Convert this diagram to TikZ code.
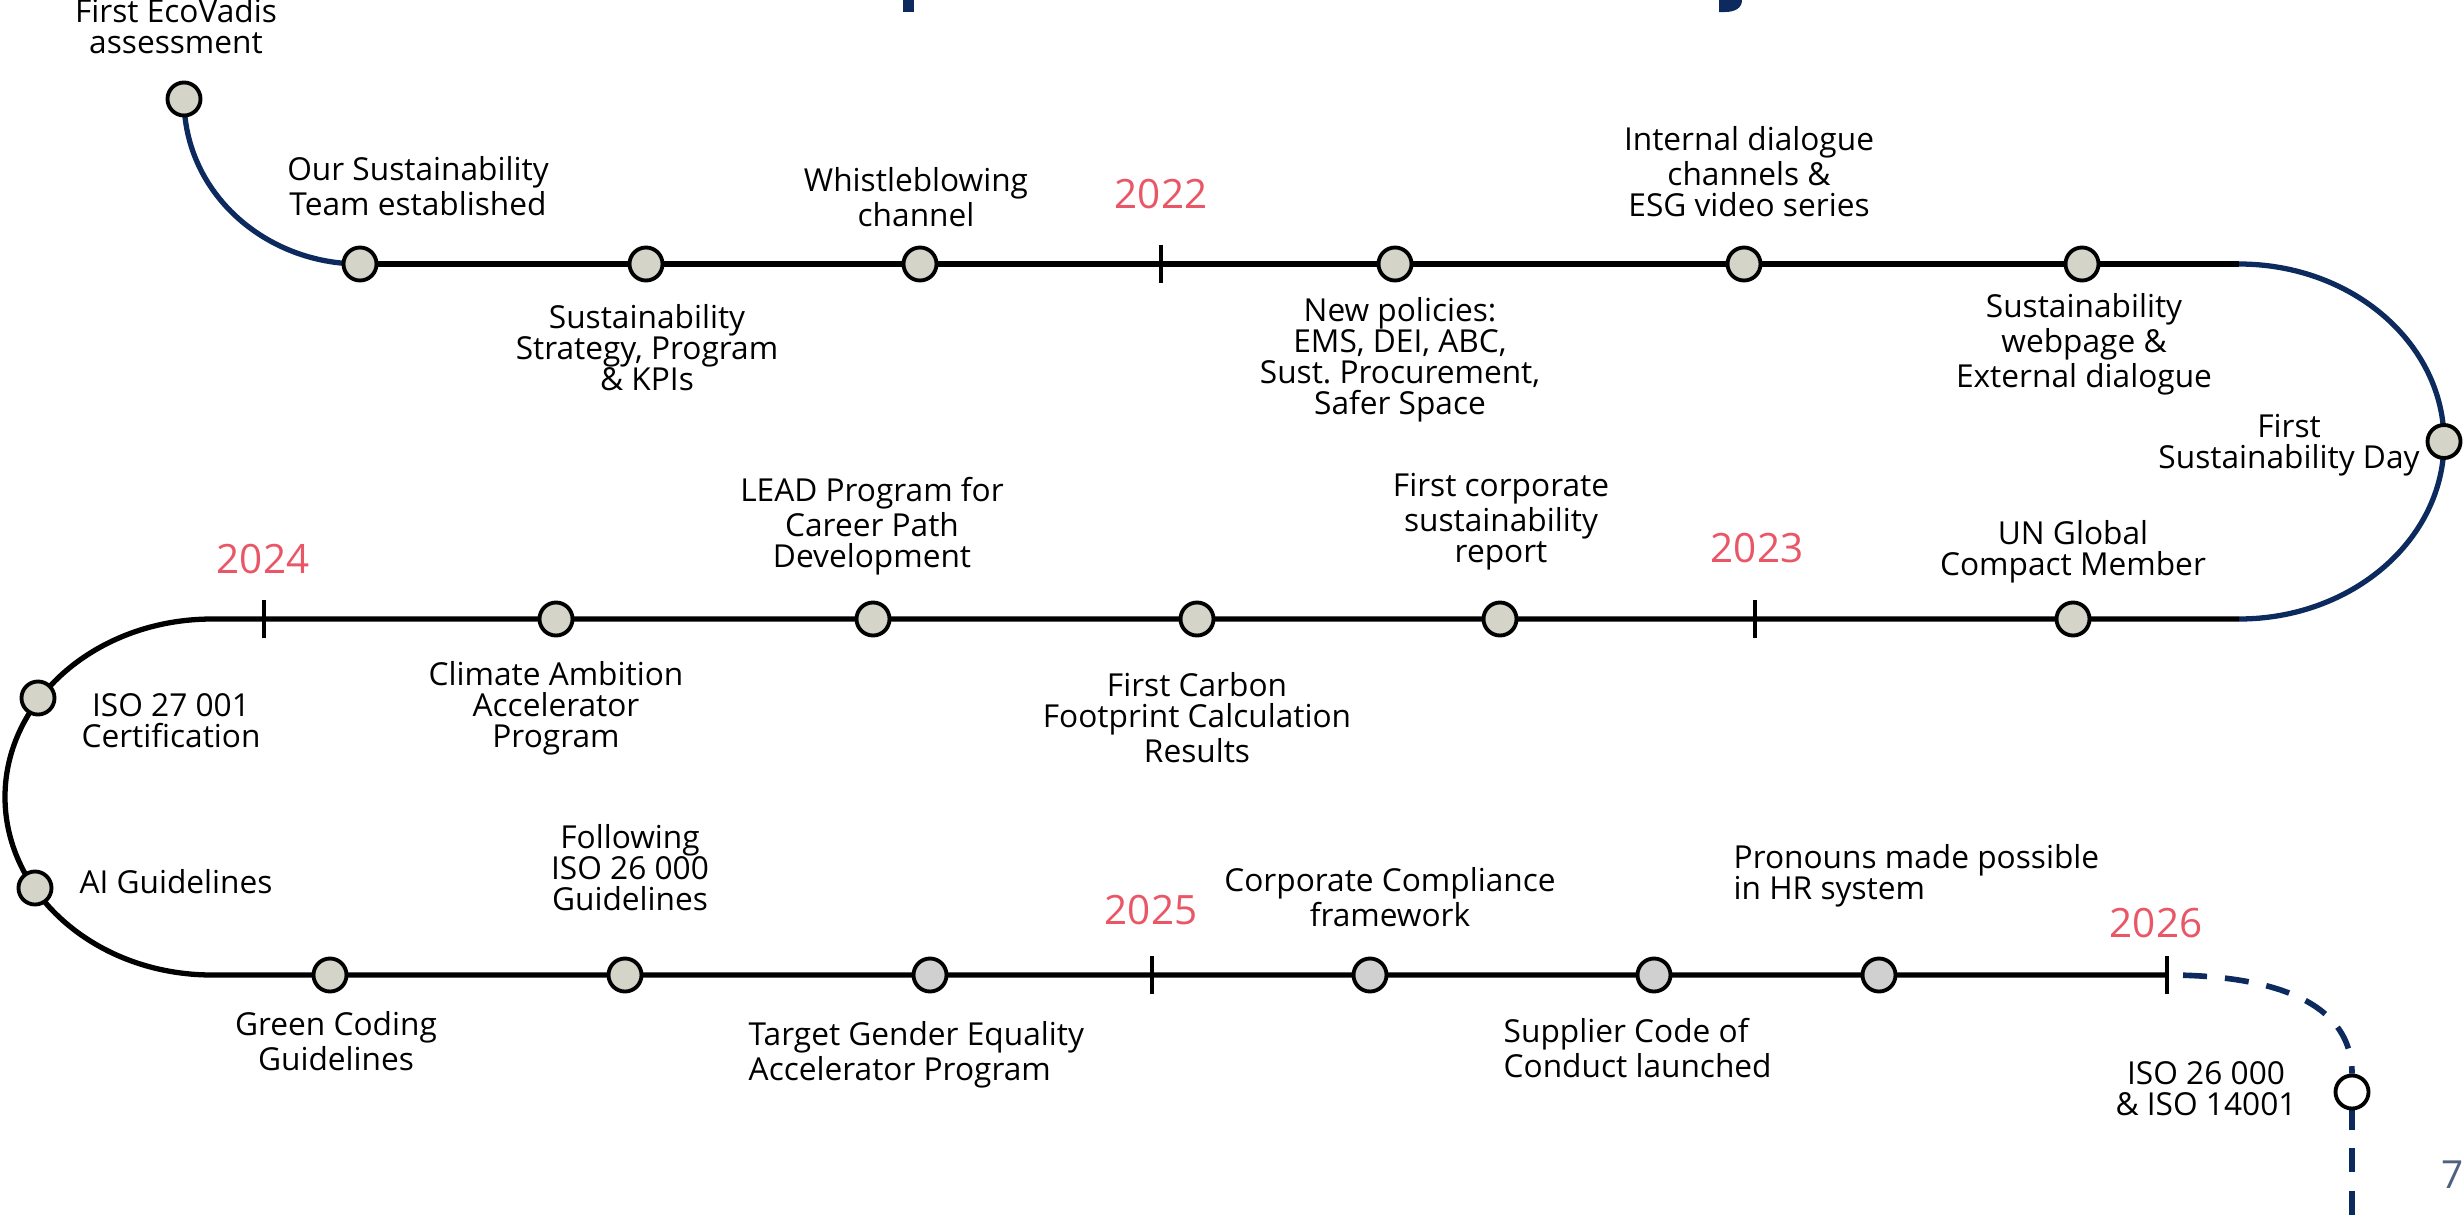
\documentclass[tikz,border=0pt]{standalone}
\usepackage{fontspec}
\setmainfont{Open Sans}
\usetikzlibrary{backgrounds}

\definecolor{navy}{RGB}{12,42,94}
\definecolor{yearred}{RGB}{233,87,103}
\definecolor{dotfill}{RGB}{212,212,200}
\definecolor{dotgrey}{RGB}{208,208,208}
\definecolor{pagegrey}{RGB}{78,98,128}

\begin{document}
\begin{tikzpicture}[x=0.01cm, y=0.01cm,
	milestone/.style={circle, draw=black, line width=1.1pt, fill=dotfill, minimum size=0.33cm, inner sep=0pt},
	track/.style={line width=1.5pt},
	future/.style={line width=1.6pt, navy, dash pattern=on 0.24cm off 0.18cm},
	yearmark/.style={line width=1.3pt},
	lbl/.style={font=\fontsize{9}{8.8}\selectfont, align=center, inner sep=0pt},
	yearlbl/.style={font=\fontsize{11.5}{13}\selectfont, text=yearred, anchor=base, inner sep=0pt}]

	\useasboundingbox (0,0) rectangle (2464,-1230);

	% Title (cut off at the top)
	\fill[navy] (903,0) rectangle (914,-12);
	\fill[navy] (1719,0) -- (1742,0) .. controls (1742,-8) and (1735,-12) .. (1725,-12) -- (1719,-12) -- cycle;

	% Row 1
	\node[milestone] (eco) at (184,-99) {};
	\node[milestone] (m1) at (360,-264) {};
	\node[milestone] (m2) at (646,-264) {};
	\node[milestone] (m3) at (920,-264) {};
	\coordinate (y22) at (1161,-264);
	\node[milestone] (m4) at (1395,-264) {};
	\node[milestone] (m5) at (1744,-264) {};
	\node[milestone] (m6) at (2082,-264) {};
	\coordinate (r1e) at (2239,-264);

	% Right turn
	\node[milestone] (sday) at (2444,-441.5) {};

	% Row 2
	\coordinate (r2e) at (2239,-619);
	\node[milestone] (un) at (2073,-619) {};
	\coordinate (y23) at (1755,-619);
	\node[milestone] (rep) at (1500,-619) {};
	\node[milestone] (carb) at (1197,-619) {};
	\node[milestone] (lead) at (873,-619) {};
	\node[milestone] (clim) at (556,-619) {};
	\coordinate (y24) at (264,-619);
	\coordinate (r2w) at (212,-619);

	% Left turn
	\node[milestone] (iso27) at (38,-698) {};
	\node[milestone] (ai) at (35,-888) {};

	% Row 3
	\coordinate (r3w) at (212,-975);
	\node[milestone] (green) at (330,-975) {};
	\node[milestone] (iso26) at (625,-975) {};
	\node[milestone, fill=dotgrey] (gend) at (930,-975) {};
	\coordinate (y25) at (1152,-975);
	\node[milestone, fill=dotgrey] (comp) at (1370,-975) {};
	\node[milestone, fill=dotgrey] (supp) at (1654,-975) {};
	\node[milestone, fill=dotgrey] (pron) at (1879,-975) {};
	\coordinate (y26) at (2167,-975);

	% Next step
	\node[milestone, fill=white] (fut) at (2352,-1092) {};
	\coordinate (bot) at (2352,-1240);

	% Track
	\begin{scope}[on background layer]
		\draw[track, navy] (eco.center) to[out=-90, in=180] (m1.center);
		\draw[track] (m1.center) -- (r1e);
		\draw[track, navy] (r1e) arc[start angle=90, end angle=-90, x radius=205, y radius=177.5];
		\draw[track] (r2e) -- (r2w) arc[start angle=90, end angle=270, x radius=207, y radius=178] -- (y26);
		\draw[future, dash phase=0.26cm] (y26) to[out=0, in=90] (fut.north);
		\draw[future, dash phase=0.04cm] (fut.south) -- (bot);
	\end{scope}

	% Year marks
	\foreach \t in {y22,y23,y24,y25,y26}
		\draw[yearmark] ([yshift=0.19cm]\t) -- ([yshift=-0.19cm]\t);

	% Labels row 1
	\node[lbl] (l-eco) at (176,-26) {First EcoVadis\\assessment};
	\node[lbl] (l-m1) at (418,-186) {Our Sustainability\\Team established};
	\node[lbl] (l-m2) at (647,-348) {Sustainability\\Strategy, Program\\\& KPIs};
	\node[lbl] (l-m3) at (916,-197) {Whistleblowing\\channel};
	\node[yearlbl] (l-y22) at (1161,-208) {2022};
	\node[lbl] (l-m4) at (1400,-360) {New policies:\\EMS, DEI, ABC,\\Sust.\ Procurement,\\Safer Space};
	\node[lbl] (l-m5) at (1749,-172) {Internal dialogue\\channels \&\\ESG video series};
	\node[lbl] (l-m6) at (2084,-344) {Sustainability\\webpage \&\\External dialogue};
	\node[lbl] (l-sday) at (2289,-445) {First\\Sustainability Day};

	% Labels row 2
	\node[lbl] (l-un) at (2073,-552) {UN Global\\Compact Member};
	\node[yearlbl] (l-y23) at (1757,-562) {2023};
	\node[lbl] (l-rep) at (1501,-522) {First corporate\\sustainability\\report};
	\node[lbl] (l-carb) at (1197,-718) {First Carbon\\Footprint Calculation\\Results};
	\node[lbl] (l-lead) at (872,-526) {LEAD Program for\\Career Path\\Development};
	\node[lbl] (l-clim) at (556,-708) {Climate Ambition\\Accelerator\\Program};
	\node[yearlbl] (l-y24) at (263,-573) {2024};
	\node[lbl] (l-iso27) at (171,-721) {ISO 27 001\\Certification};
	\node[lbl, anchor=base] (l-ai) at (176,-893) {AI Guidelines};

	% Labels row 3
	\node[lbl] (l-green) at (336,-1041) {Green Coding\\Guidelines};
	\node[lbl] (l-iso26) at (630,-868) {Following\\ISO 26 000\\Guidelines};
	\node[lbl, align=left, anchor=west] (l-gend) at (748,-1055) {Target Gender Equality\\Accelerator Program};
	\node[yearlbl] (l-y25) at (1151,-924) {2025};
	\node[lbl] (l-comp) at (1390,-897) {Corporate Compliance\\framework};
	\node[lbl, align=left, anchor=west] (l-supp) at (1503,-1048) {Supplier Code of\\Conduct launched};
	\node[lbl, align=left, anchor=west] (l-pron) at (1733,-876) {Pronouns made possible\\in HR system};
	\node[yearlbl] (l-y26) at (2156,-937) {2026};
	\node[lbl] (l-fut) at (2206,-1089) {ISO 26 000\\\& ISO 14001};

	% Page number
	\node[font=\fontsize{11}{13}\selectfont, text=pagegrey, anchor=base, inner sep=0pt] (page) at (2453,-1188) {7};

\end{tikzpicture}
\end{document}
